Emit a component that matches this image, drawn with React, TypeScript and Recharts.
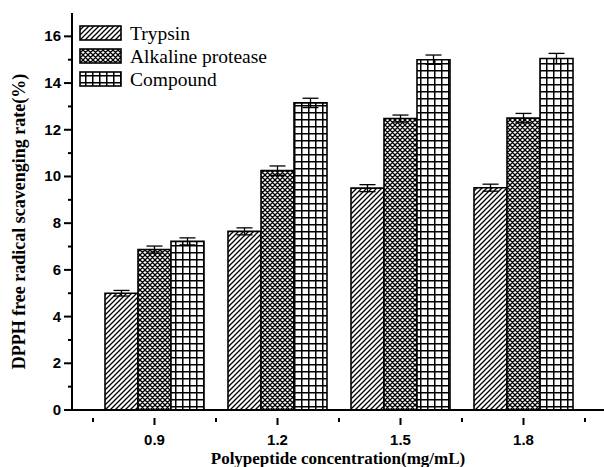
import React from 'react';
import { BarChart, Bar, XAxis, YAxis, ErrorBar } from 'recharts';

const concentrations = ['0.9', '1.2', '1.5', '1.8'];
const trypsin = [5.0, 7.65, 9.5, 9.52];
const alkaline = [6.87, 10.25, 12.48, 12.5];
const compound = [7.22, 13.15, 15.0, 15.05];
const trypsinErr = [0.12, 0.15, 0.15, 0.15];
const alkalineErr = [0.15, 0.2, 0.15, 0.2];
const compoundErr = [0.15, 0.2, 0.2, 0.22];
const yTicks = [0, 1, 2, 3, 4, 5, 6, 7, 8, 9, 10, 11, 12, 13, 14, 15, 16];
const seriesNames = ['Trypsin', 'Alkaline protease', 'Compound'];

const data = concentrations.map((c, i) => ({
  conc: c,
  trypsin: trypsin[i],
  alkaline: alkaline[i],
  compound: compound[i],
  trypsinErr: trypsinErr[i],
  alkalineErr: alkalineErr[i],
  compoundErr: compoundErr[i],
}));

const W = 604;
const H = 467;
const PAD_L = 21;
const PAD_R = 19;
const Y_W = 72;
const HALF_BAND = (W - Y_W - PAD_L - PAD_R) / concentrations.length / 2;

const tickFont = { fontFamily: '"Liberation Sans", Arial, sans-serif', fontWeight: 700, fontSize: 15 };
const serif = '"Liberation Serif", "Times New Roman", serif';

const Defs = () => (
  <defs>
    <pattern id="pDiag" patternUnits="userSpaceOnUse" width="5" height="5">
      <rect width="5" height="5" fill="#fff" />
      <path d="M0,5 L5,0 M-1,1 L1,-1 M4,6 L6,4" stroke="#000" strokeWidth="1.3" />
    </pattern>
    <pattern id="pCross" patternUnits="userSpaceOnUse" width="5" height="5">
      <rect width="5" height="5" fill="#fff" />
      <path d="M0,5 L5,0 M-1,1 L1,-1 M4,6 L6,4 M0,0 L5,5 M-1,4 L1,6 M4,-1 L6,1" stroke="#000" strokeWidth="1.3" />
    </pattern>
    <pattern id="pGrid" patternUnits="userSpaceOnUse" width="7" height="7">
      <rect width="7" height="7" fill="#fff" />
      <path d="M0.75,0 L0.75,7 M0,0.75 L7,0.75" stroke="#000" strokeWidth="1.5" />
    </pattern>
  </defs>
);

const fills = ['url(#pDiag)', 'url(#pCross)', 'url(#pGrid)'];

const YTick = (props: any) => {
  const { y, payload } = props;
  const v = payload.value;
  const major = v % 2 === 0;
  return (
    <g>
      <line x1={Y_W - (major ? 8 : 4)} x2={Y_W} y1={y} y2={y} stroke="#000" strokeWidth={2} />
      {major && (
        <text x={Y_W - 11} y={y} dy={5} textAnchor="end" fill="#000" style={tickFont}>
          {v}
        </text>
      )}
    </g>
  );
};

const XTick = (props: any) => {
  const { x, y, payload, index } = props;
  const last = index === concentrations.length - 1;
  return (
    <g>
      <line x1={x} x2={x} y1={y} y2={y + 7} stroke="#000" strokeWidth={2} />
      <line x1={x - HALF_BAND} x2={x - HALF_BAND} y1={y} y2={y + 4} stroke="#000" strokeWidth={2} />
      {last && <line x1={x + HALF_BAND} x2={x + HALF_BAND} y1={y} y2={y + 4} stroke="#000" strokeWidth={2} />}
      <text x={x} y={y + 27} textAnchor="middle" fill="#000" style={tickFont}>
        {payload.value}
      </text>
    </g>
  );
};

const Legend = () => (
  <svg width={260} height={80} style={{ position: 'absolute', left: 78, top: 22, display: 'block' }}>
    {seriesNames.map((n, i) => (
      <g key={n} transform={`translate(0, ${i * 23})`}>
        <rect x={2} y={4} width={41} height={14} fill={fills[i]} stroke="#000" strokeWidth={1.6} />
        <text x={52} y={18} fill="#000" style={{ fontFamily: serif, fontSize: 19.5, fontWeight: 400 }}>
          {n}
        </text>
      </g>
    ))}
  </svg>
);

export default function App() {
  return (
    <div style={{ position: 'absolute', left: 0, top: 0, width: W, height: H, background: '#fff' }}>
      <BarChart
        width={W}
        height={H}
        data={data}
        margin={{ top: 13, right: 0, bottom: 0, left: 0 }}
        barCategoryGap={12}
        barGap={0}
      >
        <Defs />
        <XAxis
          dataKey="conc"
          height={57}
          padding={{ left: PAD_L, right: PAD_R }}
          axisLine={{ stroke: '#000', strokeWidth: 2 }}
          tickLine={false}
          tick={<XTick />}
          interval={0}
          label={{
            content: (p: any) => (
              <text
                x={p.viewBox.x + p.viewBox.width / 2}
                y={p.viewBox.y + 54}
                textAnchor="middle"
                fill="#000"
                style={{ fontFamily: serif, fontWeight: 700, fontSize: 17 }}
              >
                Polypeptide concentration(mg/mL)
              </text>
            ),
          }}
        />
        <YAxis
          width={Y_W}
          domain={[0, 17]}
          ticks={yTicks}
          interval={0}
          axisLine={{ stroke: '#000', strokeWidth: 2 }}
          tickLine={false}
          tick={<YTick />}
          label={{
            content: (p: any) => {
              const cx = 25;
              const cy = p.viewBox.y + p.viewBox.height / 2 + 10;
              return (
                <text
                  x={cx}
                  y={cy}
                  transform={`rotate(-90, ${cx}, ${cy})`}
                  textAnchor="middle"
                  fill="#000"
                  style={{ fontFamily: serif, fontWeight: 700, fontSize: 18 }}
                >
                  DPPH free radical scavenging rate(%)
                </text>
              );
            },
          }}
        />
        <Bar dataKey="trypsin" fill={fills[0]} stroke="#000" strokeWidth={1.6} isAnimationActive={false}>
          <ErrorBar dataKey="trypsinErr" width={8} stroke="#000" strokeWidth={1.3} />
        </Bar>
        <Bar dataKey="alkaline" fill={fills[1]} stroke="#000" strokeWidth={1.6} isAnimationActive={false}>
          <ErrorBar dataKey="alkalineErr" width={8} stroke="#000" strokeWidth={1.3} />
        </Bar>
        <Bar dataKey="compound" fill={fills[2]} stroke="#000" strokeWidth={1.6} isAnimationActive={false}>
          <ErrorBar dataKey="compoundErr" width={8} stroke="#000" strokeWidth={1.3} />
        </Bar>
      </BarChart>
      <Legend />
    </div>
  );
}
